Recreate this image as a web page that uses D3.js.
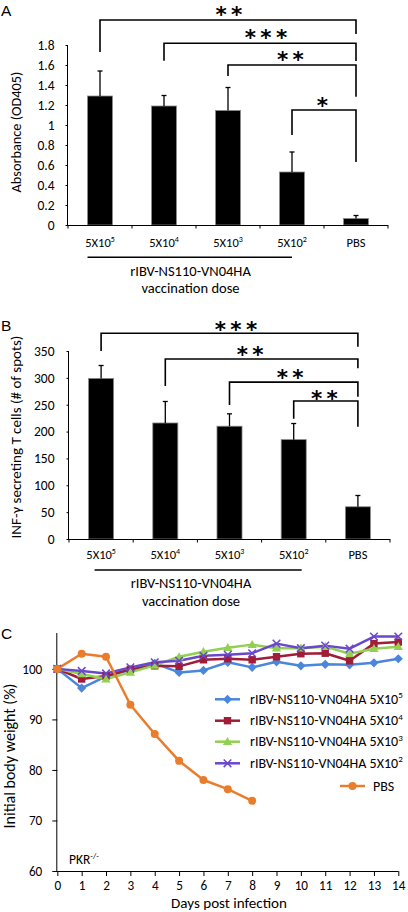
<!DOCTYPE html>
<html><head><meta charset="utf-8">
<script src="https://cdn.jsdelivr.net/npm/d3@7"></script>
<style>
body{margin:0;background:#fff}
svg{display:block}
text{font-family:Carlito, Lato, sans-serif;fill:#000}
</style>
</head><body>
<svg id="c" width="408" height="912"></svg>
<script>
// ---------------- DATA ----------------
const doses = ["5X10^5", "5X10^4", "5X10^3", "5X10^2", "PBS"];
const absorbance = [1.29, 1.19, 1.145, 0.53, 0.065];
const absorbanceErr = [0.25, 0.105, 0.23, 0.20, 0.03];
const absTicks = [0, 0.2, 0.4, 0.6, 0.8, 1, 1.2, 1.4, 1.6, 1.8];
const sigA = ["* *", "* * *", "* *", "*"];           // each dose vs PBS

const ifnSpots = [299, 216, 210, 185, 60];
const ifnErr = [24, 40, 23, 30, 21];
const ifnTicks = [0, 50, 100, 150, 200, 250, 300, 350];
const sigB = ["* * *", "* *", "* *", "* *"];

const groupTitle = ["rIBV-NS110-VN04HA", "vaccination dose"];

const days = [0, 1, 2, 3, 4, 5, 6, 7, 8, 9, 10, 11, 12, 13, 14];
const weightTicks = [60, 70, 80, 90, 100];
const w5e5 = [100, 96.2, 98.5, 99.8, 101.1, 99.3, 99.7, 101.3, 100.3, 101.4, 100.6, 100.9, 100.8, 101.2, 102.0];
const w5e4 = [100, 98.0, 98.6, 99.9, 100.6, 100.5, 101.8, 102.0, 101.8, 102.4, 103.0, 103.1, 101.6, 105.0, 105.3];
const w5e3 = [100, 99.0, 98.0, 99.3, 100.7, 102.4, 103.4, 104.2, 104.8, 104.1, 104.1, 104.4, 103.0, 104.0, 104.4];
const w5e2 = [100, 99.6, 99.1, 100.3, 101.3, 101.6, 102.6, 102.8, 103.1, 105.0, 104.1, 104.6, 104.0, 106.4, 106.4];
const wPBS = [100, 103.0, 102.4, 92.9, 87.1, 81.8, 78.0, 76.2, 73.9];
const seriesNames = ["rIBV-NS110-VN04HA 5X10^5", "rIBV-NS110-VN04HA 5X10^4", "rIBV-NS110-VN04HA 5X10^3", "rIBV-NS110-VN04HA 5X10^2", "PBS"];

// ---------------- HELPERS ----------------
const svg = d3.select("#c");

function supText(sel, str, supSize, supDy) {
  const parts = str.split("^");
  sel.text(null);
  sel.append("tspan").text(parts[0]);
  if (parts.length > 1) sel.append("tspan").attr("font-size", supSize).attr("dy", supDy).text(parts[1]);
}
function fitText(t, len) {
  t.attr("font-size", 10);
  const L = t.node().getComputedTextLength();
  t.attr("font-size", (10 * len / L).toFixed(2));
}

const STAR_FS = 21.5, STAR_LS = -1.6, STAR_RISE = 0.52;

function barPanel(o) {
  const g = svg.append("g");
  const x = d3.scaleBand().domain(doses).range(o.xr).paddingInner(0.61).paddingOuter(0.305);
  const y = d3.scaleLinear().domain(o.domain).range(o.yr);
  const bw = x.bandwidth();
  const cx = d => x(d) + bw / 2;

  g.selectAll("rect.bar").data(o.values).join("rect")
    .attr("x", (d, i) => x(doses[i]))
    .attr("y", d => y(d))
    .attr("width", bw)
    .attr("height", d => y(0) - y(d))
    .attr("fill", "#000").attr("stroke", "#8a8a8a").attr("stroke-width", 0.8);

  o.values.forEach((v, i) => {
    const xc = cx(doses[i]);
    g.append("line").attr("x1", xc).attr("x2", xc).attr("y1", y(v)).attr("y2", y(v + o.errs[i]))
      .attr("stroke", "#000").attr("stroke-width", 1.3);
    g.append("line").attr("x1", xc - 2.5).attr("x2", xc + 2.5).attr("y1", y(v + o.errs[i])).attr("y2", y(v + o.errs[i]))
      .attr("stroke", "#000").attr("stroke-width", 1.3);
  });

  const ya = g.append("g").attr("transform", `translate(${o.xr[0]},0)`)
    .call(d3.axisLeft(y).tickValues(o.ticks).tickSize(2.5).tickPadding(o.tickPad).tickFormat(d => d));
  ya.select(".domain").attr("stroke", "#000").attr("d", `M-0.5,${o.yr[0]}V${o.yr[1]}`);
  ya.selectAll("text").attr("font-size", 13.5).attr("font-family", null);

  g.append("line").attr("x1", o.xr[0]).attr("x2", o.xr[1]).attr("y1", y(0) + 0.5).attr("y2", y(0) + 0.5).attr("stroke", "#000");
  const bounds = [o.xr[0]].concat(doses.map(d => x(d) + bw / 2 + x.step() / 2));
  bounds.forEach(b => g.append("line").attr("x1", b).attr("x2", b).attr("y1", y(0)).attr("y2", y(0) + 3.5).attr("stroke", "#000"));

  doses.forEach(d => {
    const t = g.append("text").attr("x", cx(d)).attr("y", y(0) + o.labDy)
      .attr("text-anchor", "middle").attr("font-size", 12.5);
    supText(t, d, 8, -5);
  });

  g.append("line").attr("x1", x(doses[0]) + o.ulx[0]).attr("x2", cx(doses[3]) + o.ulx[1])
    .attr("y1", o.ulY).attr("y2", o.ulY).attr("stroke", "#000").attr("stroke-width", 1.4);
  groupTitle.forEach((s, k) => g.append("text").attr("x", o.titleX).attr("y", o.titleY[k])
    .attr("text-anchor", "middle").attr("font-size", 14.5).text(s));

  const yl = g.append("text").attr("transform", `translate(${o.ylabX},${o.ylabY}) rotate(-90)`)
    .attr("text-anchor", "middle").text(o.ylab);
  fitText(yl, o.ylabLen);

  o.sig.forEach((lab, i) => {
    const b = o.brk[i];
    const xl = cx(doses[i]), xr = cx(doses[4]);
    g.append("path").attr("d", `M${xl},${y(b[1])}V${y(b[0])}H${xr}V${y(b[2])}`)
      .attr("fill", "none").attr("stroke", "#000").attr("stroke-width", 1.6);
    g.append("text").attr("x", (xl + xr) / 2 + b[3] + STAR_LS / 2).attr("y", y(b[0]) - b[4] + STAR_RISE * STAR_FS)
      .attr("text-anchor", "middle").attr("font-size", STAR_FS).attr("letter-spacing", STAR_LS)
      .attr("font-weight", "bold").style("font-family", "'DejaVu Sans', sans-serif").text(lab);
  });

  g.append("text").attr("x", 1).attr("y", o.letterY).attr("font-size", 15.5)
    .style("font-family", "'Liberation Sans', Arial, sans-serif").text(o.letter);
}

barPanel({
  letter: "A", letterY: 15.5,
  values: absorbance, errs: absorbanceErr, ticks: absTicks,
  xr: [68, 388], yr: [225, 45], domain: [0, 1.8], tickPad: 11,
  labDy: 21.5, ulY: 257.3, ulx: [0, 0], titleX: 190.5, titleY: [276, 293.3],
  ylab: "Absorbance (OD405)", ylabX: 21, ylabY: 132, ylabLen: 121,
  sig: sigA,
  // [top, left leg end, right leg end, label dx, label rise]  (value units / px offsets)
  brk: [[2.05, 1.73, 1.91, 1, 9], [1.817, 1.643, 1.64, 6, 9], [1.6, 1.49, 1.283, -1.5, 9], [1.15, 0.9, 0.63, -1.5, 8]]
});

barPanel({
  letter: "B", letterY: 330.5,
  values: ifnSpots, errs: ifnErr, ticks: ifnTicks,
  xr: [69, 390], yr: [539, 351], domain: [0, 350], tickPad: 12,
  labDy: 20, ulY: 570, ulx: [6, 8], titleX: 191, titleY: [588.3, 605.7],
  ylab: "INF-γ secreting T cells (# of spots)", ylabX: 20.5, ylabY: 437, ylabLen: 203,
  sig: sigB,
  brk: [[383, 350, 358, 6.5, 7.8], [335, 285, 318, -11.5, 8.5], [292, 249.5, 265, -3.5, 8.3], [257, 224, 209, -1.5, 6]]
});

// ---------------- PANEL C ----------------
(function () {
  const g = svg.append("g");
  const x = d3.scaleLinear().domain([0, 14]).range([57.3, 398.3]);
  const y = d3.scaleLinear().domain([60, 107.1]).range([871, 633]);

  const xa = g.append("g").attr("transform", `translate(0,${871})`)
    .call(d3.axisBottom(x).tickValues(days).tickSize(5).tickPadding(4.8).tickFormat(d => d));
  xa.select(".domain").attr("stroke", "#000").attr("d", `M57.3,0.5H398.3`);
  xa.selectAll("text").attr("font-size", 13.2).attr("font-family", null);

  const ya = g.append("g").attr("transform", `translate(${57.3},0)`)
    .call(d3.axisLeft(y).tickValues(weightTicks).tickSize(5).tickPadding(10).tickFormat(d => d));
  ya.select(".domain").attr("stroke", "#000").attr("d", `M-0.5,871V633`);
  ya.selectAll("text").attr("font-size", 13.2).attr("font-family", null);

  const colors = ["#4a86dc", "#a01c37", "#92d050", "#6a48cc", "#ea7d2c"];
  const all = [w5e5, w5e4, w5e3, w5e2, wPBS];
  const line = d3.line().x((d, i) => x(days[i])).y(d => y(d));

  function marker(sel, k, c) {
    if (k === 0) sel.append("path").attr("d", "M0,-4.6L4.6,0L0,4.6L-4.6,0Z").attr("fill", c);
    else if (k === 1) sel.append("rect").attr("x", -3.7).attr("y", -3.7).attr("width", 7.4).attr("height", 7.4).attr("fill", c);
    else if (k === 2) sel.append("path").attr("d", "M0,-4.6L4.6,3.4L-4.6,3.4Z").attr("fill", c);
    else if (k === 3) sel.append("path").attr("d", "M-3.8,-3.8L3.8,3.8M-3.8,3.8L3.8,-3.8").attr("stroke", c).attr("stroke-width", 1.5);
    else sel.append("circle").attr("r", 4).attr("fill", c);
  }

  all.forEach((s, k) => {
    g.append("path").datum(s).attr("d", line).attr("fill", "none")
      .attr("stroke", colors[k]).attr("stroke-width", 2.5).attr("stroke-linejoin", "round");
  });
  all.forEach((s, k) => {
    s.forEach((v, i) => {
      marker(g.append("g").attr("transform", `translate(${x(days[i])},${y(v)})`), k, colors[k]);
    });
  });

  const rows = [
    {lx: 215, ty: 699.3}, {lx: 215, ty: 720.7}, {lx: 215, ty: 741.7}, {lx: 215, ty: 763.3}, {lx: 340, ty: 786}
  ];
  seriesNames.forEach((nm, k) => {
    const r = rows[k];
    g.append("line").attr("x1", r.lx).attr("x2", r.lx + 25).attr("y1", r.ty).attr("y2", r.ty)
      .attr("stroke", colors[k]).attr("stroke-width", 2.5);
    marker(g.append("g").attr("transform", `translate(${r.lx + 12.5},${r.ty})`), k, colors[k]);
    const t = g.append("text").attr("x", r.lx + (k < 4 ? 35 : 33)).attr("y", r.ty + 4.6).attr("font-size", 14);
    supText(t, nm, 9, -5.5);
  });

  const pk = g.append("text").attr("x", 69).attr("y", 864).attr("font-size", 13.5);
  pk.append("tspan").text("PKR");
  pk.append("tspan").attr("font-size", 8.5).attr("dy", -5.5).text("-/-");

  const dl = g.append("text").attr("x", 229).attr("y", 908).attr("text-anchor", "middle").text("Days post infection");
  fitText(dl, 116);
  const yl = g.append("text").attr("transform", `translate(14.5,756) rotate(-90)`).attr("text-anchor", "middle")
    .text("Initial body weight (%)");
  fitText(yl, 145);
  g.append("text").attr("x", 1).attr("y", 639).attr("font-size", 15.5)
    .style("font-family", "'Liberation Sans', Arial, sans-serif").text("C");
})();
</script>
</body></html>
